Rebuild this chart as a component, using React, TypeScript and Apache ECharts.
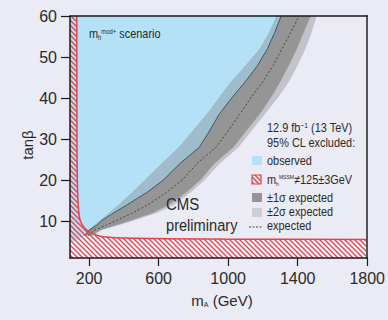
import React, { useEffect, useRef } from 'react';
import * as echarts from 'echarts';

const TANB = [6.5, 7.8, 9, 10.2, 12, 14, 17, 20, 24, 28, 32, 36, 40, 44, 48, 52, 56, 60];
const OBSERVED_MA = [175, 200, 245, 275, 342, 420, 533, 627, 722, 834, 893, 948, 1020, 1099, 1170, 1226, 1268, 1305];
const MINUS2_MA = [172, 195, 228, 262, 313, 370, 448, 520, 615, 715, 795, 874, 945, 1015, 1100, 1181, 1235, 1277];
const PLUS1_MA = [215, 265, 355, 445, 565, 660, 760, 840, 920, 1030, 1105, 1180, 1245, 1300, 1350, 1395, 1435, 1474];
const PLUS2_MA = [225, 275, 369, 462, 590, 690, 785, 865, 950, 1060, 1135, 1210, 1285, 1350, 1400, 1445, 1480, 1509];
const EXPECTED_MA = [195, 230, 300, 360, 450, 540, 645, 735, 820, 930, 1000, 1065, 1130, 1200, 1260, 1310, 1360, 1408];
const OBS_LOW_MA = [90, 130, 160];
const OBS_LOW_TANB = [4.8, 5.4, 6.0];
const MH_MA = [129, 130, 132, 136, 141, 150, 172, 210, 280, 476, 1000, 1800];
const MH_TANB = [60, 30, 20, 15, 12, 10, 8.4, 7.2, 6.2, 5.8, 5.6, 5.5];
const X_TICKS = [200, 600, 1000, 1400, 1800];
const Y_TICKS = [10, 20, 30, 40, 50, 60];
const X_MIN = 90;
const X_MAX = 1800;
const Y_MIN = 1;
const Y_MAX = 60;

const BG = '#ebebf5';
const BLUE = '#b4e1f6';
const RED = '#e8414b';
const SANS = "'Liberation Sans', Arial, sans-serif";
const NARROW_SCALE = 0.84;

const zip = (xs: number[], ys: number[]) => xs.map((x, i) => [x, ys[i]]);

function makeHatch() {
  const c = document.createElement('canvas');
  c.width = 5;
  c.height = 5;
  const ctx = c.getContext('2d')!;
  ctx.strokeStyle = RED;
  ctx.lineWidth = 1.3;
  ctx.beginPath();
  ctx.moveTo(-1, -1);
  ctx.lineTo(6, 6);
  ctx.moveTo(-1, 4);
  ctx.lineTo(1, 6);
  ctx.moveTo(4, -1);
  ctx.lineTo(6, 1);
  ctx.stroke();
  return { image: c, repeat: 'repeat', imageWidth: 5, imageHeight: 5 } as any;
}

function polySeries(pts: number[][], style: any, z: number) {
  return {
    type: 'custom',
    coordinateSystem: 'cartesian2d',
    silent: true,
    z,
    data: pts,
    encode: { x: 0, y: 1 },
    renderItem: (params: any, api: any) => {
      if (params.dataIndex !== 0) return null;
      return {
        type: 'polygon',
        shape: { points: pts.map((p) => api.coord(p)) },
        style,
      };
    },
  };
}

export default function App() {
  const ref = useRef<HTMLDivElement>(null);
  useEffect(() => {
    document.body.style.margin = '0';
    document.body.style.background = BG;
    const chart = echarts.init(ref.current!, null, { renderer: 'svg' });
    const hatch = makeHatch();

    const obsLine = zip(OBSERVED_MA, TANB);
    const observedPoly = [[X_MIN, Y_MAX], ...zip(OBS_LOW_MA, OBS_LOW_TANB), ...obsLine];
    const band2Poly = [...zip(MINUS2_MA, TANB), ...zip(PLUS2_MA, TANB).reverse()];
    const band1Poly = [...obsLine, ...zip(PLUS1_MA, TANB).reverse()];
    const mhLine = zip(MH_MA, MH_TANB);
    const hatchPoly = [[X_MIN, Y_MAX], ...mhLine, [X_MAX, Y_MIN], [X_MIN, Y_MIN]];

    const txt = (x: number, y: number, text: string, size: number, extra: any = {}, scaleX = NARROW_SCALE) => ({
      type: 'text',
      x,
      y,
      scaleX,
      silent: true,
      z: 100,
      style: {
        text,
        font: `${size}px ${SANS}`,
        fill: '#2a2a2a',
        textAlign: 'left',
        textVerticalAlign: 'middle',
        verticalAlign: 'middle',
        ...extra,
      },
    });

    const option: any = {
      animation: false,
      backgroundColor: BG,
      grid: { left: 70, right: 13, top: 16, bottom: 62, show: true, backgroundColor: BG, borderWidth: 0 },
      xAxis: [
        {
          type: 'value',
          min: X_MIN,
          max: X_MAX,
          z: 10,
          axisLine: { lineStyle: { color: '#1a1a1a', width: 1.5 } },
          axisTick: { customValues: X_TICKS, length: 8, lineStyle: { color: '#1a1a1a', width: 1.2 } },
          axisLabel: {
            customValues: X_TICKS,
            formatter: (v: number) => String(v),
            fontFamily: SANS,
            fontSize: 16,
            color: '#2a2a2a',
            margin: 12,
          },
          splitLine: { show: false },
        },
        {
          type: 'value',
          position: 'top',
          min: X_MIN,
          max: X_MAX,
          z: 10,
          axisLine: { show: true, lineStyle: { color: '#1a1a1a', width: 1.5 } },
          axisTick: { show: false },
          axisLabel: { show: false },
          splitLine: { show: false },
        },
      ],
      yAxis: [
        {
          type: 'value',
          min: Y_MIN,
          max: Y_MAX,
          z: 10,
          axisLine: { show: true, lineStyle: { color: '#1a1a1a', width: 1.5 } },
          axisTick: { show: true, customValues: Y_TICKS, length: 9, lineStyle: { color: '#1a1a1a', width: 1.2 } },
          axisLabel: {
            customValues: Y_TICKS,
            formatter: (v: number) => String(v),
            fontFamily: SANS,
            fontSize: 16,
            color: '#2a2a2a',
            margin: 13,
          },
          splitLine: { show: false },
        },
        {
          type: 'value',
          position: 'right',
          min: Y_MIN,
          max: Y_MAX,
          z: 10,
          axisLine: { show: true, lineStyle: { color: '#555', width: 2 } },
          axisTick: { show: false },
          axisLabel: { show: false },
          splitLine: { show: false },
        },
      ],
      series: [
        polySeries(hatchPoly, { fill: 'rgba(255,255,255,0.55)' }, 1),
        polySeries(observedPoly, { fill: BLUE }, 2),
        polySeries(band2Poly, { fill: 'rgba(118,122,128,0.36)' }, 3),
        polySeries(band1Poly, { fill: '#959595' }, 4),
        {
          type: 'line',
          data: obsLine,
          symbol: 'none',
          silent: true,
          z: 5,
          lineStyle: { color: '#34596c', width: 1 },
        },
        {
          type: 'line',
          data: zip(EXPECTED_MA, TANB),
          symbol: 'none',
          silent: true,
          z: 6,
          lineStyle: { color: '#444', width: 1, type: [2, 2] },
        },
        polySeries(hatchPoly, { fill: hatch }, 7),
        {
          type: 'line',
          data: mhLine,
          symbol: 'none',
          smooth: 0.3,
          silent: true,
          z: 8,
          lineStyle: { color: RED, width: 1.5 },
        },
      ],
      graphic: [
        txt(89, 34, '{a|m}{sub|h}{sup|mod+}{a| scenario}', 13, {
          rich: {
            a: { font: `13px ${SANS}`, fill: '#2a2a2a' },
            sub: { font: `7px ${SANS}`, fill: '#2a2a2a', verticalAlign: 'bottom' },
            sup: { font: `7px ${SANS}`, fill: '#2a2a2a', verticalAlign: 'top' },
          },
        }),
        txt(166, 204, 'CMS', 17, {}, 0.88),
        txt(166, 225, 'preliminary', 17, {}, 0.86),
        txt(267, 128, '{a|12.9 fb}{sup|−1}{a| (13 TeV)}', 13, {
          rich: {
            a: { font: `13px ${SANS}`, fill: '#2a2a2a' },
            sup: { font: `8px ${SANS}`, fill: '#2a2a2a', verticalAlign: 'top' },
          },
        }),
        txt(267, 143, '95% CL excluded:', 13),
        { type: 'rect', shape: { x: 252, y: 156, width: 10, height: 9 }, style: { fill: BLUE }, z: 100 },
        txt(267, 161, 'observed', 13),
        {
          type: 'rect',
          shape: { x: 252, y: 175, width: 9, height: 9 },
          style: { fill: hatch, stroke: RED, lineWidth: 1.2 },
          z: 100,
        },
        txt(267, 180, '{a|m}{sub|h}{sup|MSSM}{a|≠125±3GeV}', 13, {
          rich: {
            a: { font: `13px ${SANS}`, fill: '#2a2a2a' },
            sub: { font: `6px ${SANS}`, fill: '#2a2a2a', verticalAlign: 'bottom' },
            sup: { font: `6px ${SANS}`, fill: '#2a2a2a', verticalAlign: 'top' },
          },
        }),
        { type: 'rect', shape: { x: 252, y: 193, width: 10, height: 9 }, style: { fill: '#959595' }, z: 100 },
        txt(267, 198, '±1σ expected', 13),
        { type: 'rect', shape: { x: 252, y: 208, width: 10, height: 9 }, style: { fill: '#cfcfd1' }, z: 100 },
        txt(267, 212, '±2σ expected', 13),
        {
          type: 'line',
          shape: { x1: 249, y1: 227, x2: 263, y2: 227 },
          style: { stroke: '#444', lineWidth: 1, lineDash: [2, 1.5] },
          z: 100,
        },
        txt(267, 226, 'expected', 13),
        txt(222, 300, '{a|m}{sub|A}{a| (GeV)}', 15, {
          textAlign: 'center',
          rich: {
            a: { font: `15px ${SANS}`, fill: '#2a2a2a' },
            sub: { font: `7px ${SANS}`, fill: '#2a2a2a', verticalAlign: 'bottom' },
          },
        }, 1),
        {
          type: 'text',
          x: 27,
          y: 145,
          rotation: Math.PI / 2,
          silent: true,
          z: 100,
          style: {
            text: 'tanβ',
            font: `15px ${SANS}`,
            fill: '#2a2a2a',
            textAlign: 'center',
            textVerticalAlign: 'middle',
            verticalAlign: 'middle',
          },
        },
      ],
    };
    chart.setOption(option);
    return () => chart.dispose();
  }, []);
  return (
    <div
      ref={ref}
      style={{ position: 'fixed', left: 0, top: 0, width: 388, height: 320, background: BG }}
    />
  );
}
